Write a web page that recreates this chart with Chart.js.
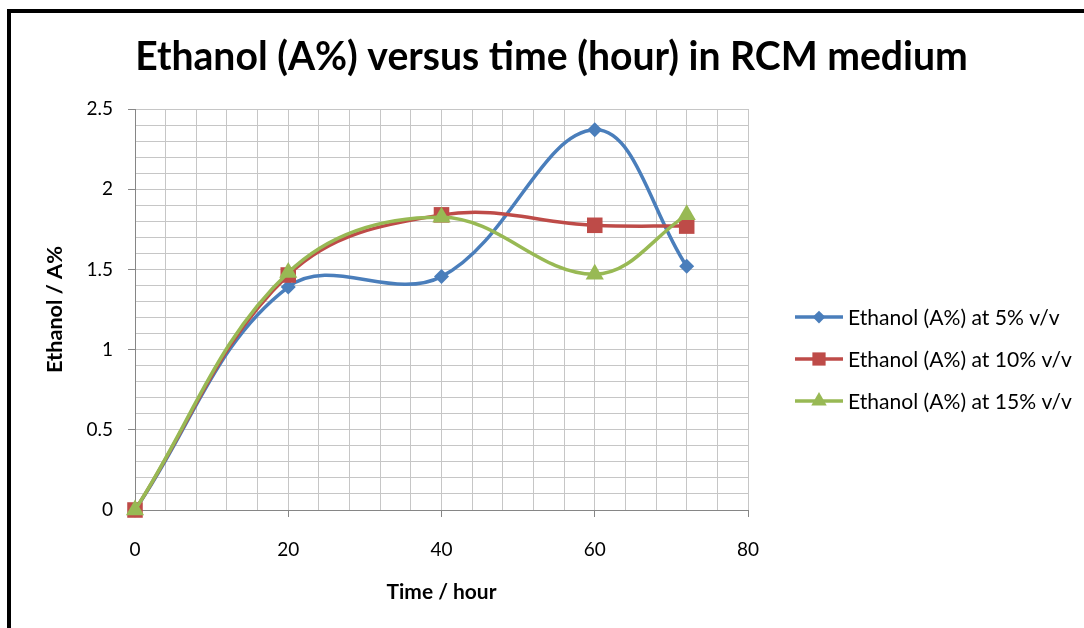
<!DOCTYPE html>
<html><head><meta charset="utf-8">
<script src="https://cdn.jsdelivr.net/npm/chart.js@4/dist/chart.umd.min.js"></script>
<style>
html,body{margin:0;padding:0;background:#fff;overflow:hidden}
#wrap{position:relative;width:1084px;height:628px;overflow:hidden}
#frame{position:absolute;left:7px;top:9px;width:1200px;height:700px;border:4px solid #000;box-sizing:border-box;pointer-events:none}
canvas{position:absolute;left:0;top:0}
</style></head>
<body><div id="wrap"><canvas id="c" width="1084" height="628"></canvas><div id="frame"></div></div>
<script>
const timeHours = [0, 20, 40, 60, 72];
const ethanol5  = [0, 1.39, 1.455, 2.37, 1.52];
const ethanol10 = [0, 1.465, 1.84, 1.775, 1.77];
const ethanol15 = [0, 1.48, 1.825, 1.47, 1.84];
const seriesNames = ['Ethanol (A%) at 5% v/v', 'Ethanol (A%) at 10% v/v', 'Ethanol (A%) at 15% v/v'];
const xTickLabels = ['0', '20', '40', '60', '80'];
const yTickLabels = ['0', '0.5', '1', '1.5', '2', '2.5'];
const titleText = 'Ethanol (A%) versus time (hour) in RCM medium';
const xTitleText = 'Time / hour';
const yTitleText = 'Ethanol / A%';

const FAMILY = 'Lato, "Open Sans", sans-serif';
const colors = ['#4A7EBB', '#BE4B48', '#98B954'];
const markers = ['rectRot', 'rect', 'triangle'];
const radii = [7.5, 11, 10.5];

const mctx = document.createElement('canvas').getContext('2d');
function fitSize(text, weight, target) {
  mctx.font = weight + ' 40px ' + FAMILY;
  return 40 * target / mctx.measureText(text).width;
}
const titleSize = fitSize(titleText, 'bold', 833);
const legendSize = fitSize(seriesNames[2], 'normal', 224);
const xTitleSize = fitSize(xTitleText, 'bold', 110);
const yTitleSize = fitSize(yTitleText, 'bold', 127);

function labelFrom(list, v) {
  const i = list.indexOf(String(v));
  return i >= 0 ? list[i] : '';
}

function drawMarker(ctx, style, x, y, r, color) {
  ctx.save();
  ctx.fillStyle = color;
  ctx.beginPath();
  if (style === 'rectRot') {
    ctx.moveTo(x - r, y); ctx.lineTo(x, y - r); ctx.lineTo(x + r, y); ctx.lineTo(x, y + r);
  } else if (style === 'rect') {
    const s = r * Math.SQRT1_2;
    ctx.rect(x - s, y - s, 2 * s, 2 * s);
  } else {
    const h = r * 0.866;
    ctx.moveTo(x, y - r); ctx.lineTo(x + h, y + r / 2); ctx.lineTo(x - h, y + r / 2);
  }
  ctx.closePath();
  ctx.fill();
  ctx.restore();
}

const decor = {
  id: 'decor',
  afterDraw(chart) {
    const ctx = chart.ctx;
    ctx.save();
    ctx.fillStyle = '#000';
    ctx.textAlign = 'center';
    ctx.textBaseline = 'alphabetic';
    ctx.font = 'bold ' + titleSize + 'px ' + FAMILY;
    ctx.fillText(titleText, 551.5, 70);
    const rows = [317, 359, 401];
    for (let i = 0; i < 3; i++) {
      const y = rows[i];
      ctx.strokeStyle = colors[i];
      ctx.lineWidth = 3.5;
      ctx.beginPath(); ctx.moveTo(795, y); ctx.lineTo(843, y); ctx.stroke();
      drawMarker(ctx, markers[i], 819, y, radii[i] * 0.85, colors[i]);
      ctx.fillStyle = '#000';
      ctx.textAlign = 'left';
      ctx.textBaseline = 'middle';
      ctx.font = legendSize + 'px ' + FAMILY;
      ctx.fillText(seriesNames[i], 848, y + 1);
    }
    ctx.restore();
  }
};

const seriesValues = [ethanol5, ethanol10, ethanol15];
const datasets = seriesValues.map((vals, i) => ({
  label: seriesNames[i],
  data: timeHours.map((t, j) => ({x: t, y: vals[j]})),
  borderColor: colors[i],
  backgroundColor: colors[i],
  pointBackgroundColor: colors[i],
  pointBorderColor: colors[i],
  pointBorderWidth: 0,
  pointStyle: markers[i],
  pointRadius: radii[i],
  borderWidth: 3.5,
  tension: 0.38,
  fill: false,
  clip: false,
  order: 3 - i
}));

const gridGray = '#C6C6C6';
const axisGray = '#868686';

new Chart(document.getElementById('c'), {
  type: 'line',
  data: {datasets},
  options: {
    responsive: false,
    animation: false,
    events: [],
    layout: {padding: {top: 109, right: 336, left: 0, bottom: 0}},
    plugins: {legend: {display: false}, title: {display: false}, tooltip: {enabled: false}},
    scales: {
      x: {
        type: 'linear', min: 0, max: 80,
        afterFit(s) { s.height = 118; },
        ticks: {
          stepSize: 4, autoSkip: false, maxRotation: 0, padding: 21,
          color: '#000', font: {family: FAMILY, size: 19},
          callback: v => labelFrom(xTickLabels, v)
        },
        grid: {
          color: gridGray, lineWidth: 1, tickLength: 7, tickWidth: 1,
          tickColor: c => (c.tick && labelFrom(xTickLabels, c.tick.value) !== '') ? axisGray : 'rgba(0,0,0,0)'
        },
        border: {color: axisGray, width: 1},
        title: {
          display: true, text: xTitleText, color: '#000',
          font: {family: FAMILY, size: xTitleSize, weight: 'bold'},
          padding: {top: 0, bottom: 36 - xTitleSize * 0.6}
        }
      },
      y: {
        type: 'linear', min: 0, max: 2.5,
        afterFit(s) { s.width = 135; },
        ticks: {
          stepSize: 0.1, autoSkip: false, padding: 15,
          color: '#000', font: {family: FAMILY, size: 19},
          callback: v => labelFrom(yTickLabels, v)
        },
        grid: {
          color: gridGray, lineWidth: 1, tickLength: 7, tickWidth: 1,
          tickColor: c => (c.tick && labelFrom(yTickLabels, c.tick.value) !== '') ? axisGray : 'rgba(0,0,0,0)'
        },
        border: {color: axisGray, width: 1},
        title: {
          display: true, text: yTitleText, color: '#000',
          font: {family: FAMILY, size: yTitleSize, weight: 'bold'},
          padding: {top: 55 - yTitleSize * 0.6, bottom: 0}
        }
      }
    }
  },
  plugins: [decor]
});
</script>
</body></html>
